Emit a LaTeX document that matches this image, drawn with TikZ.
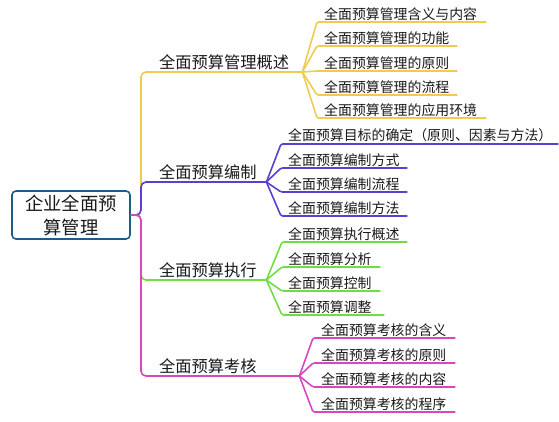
\documentclass[tikz,border=0pt]{standalone}
\usepackage{fontspec}
\setmainfont{Noto Sans CJK SC}
\definecolor{ylw}{RGB}{238,204,82}
\definecolor{pur}{RGB}{92,62,208}
\definecolor{grn}{RGB}{112,220,72}
\definecolor{mag}{RGB}{214,72,190}
\definecolor{rootc}{RGB}{30,92,135}
\definecolor{txt}{RGB}{25,25,25}
\tikzset{
  br/.style={line width=1.6pt, rounded corners=5pt},
  fan/.style={line width=1.6pt, rounded corners=1.5pt, line join=round},
  lone/.style={anchor=south west, inner xsep=0pt, inner ysep=2pt, align=left,
    font=\fontsize{16.25}{18}\selectfont, text=txt},
  leaf/.style={anchor=south west, inner xsep=0pt, inner ysep=1.5pt, align=left,
    font=\fontsize{13.9}{15}\selectfont, text=txt},
  rootbox/.style={draw=rootc, line width=1.6pt, rounded corners=4pt, fill=white,
    minimum width=118pt, minimum height=48pt, align=center, inner sep=0pt,
    font=\fontsize{18.3}{24}\selectfont, text=txt}
}
\begin{document}
\begin{tikzpicture}[x=1pt,y=-1pt]
\useasboundingbox (0,0) rectangle (559,421);
% level 1
\node[lone, text width=161pt] (a) at (141,72) {\hspace*{18pt}全面预算管理概述};
\node[lone, text width=125pt] (b) at (141,182) {\hspace*{18pt}全面预算编制};
\node[lone, text width=125pt] (c) at (141,280) {\hspace*{18pt}全面预算执行};
\node[lone, text width=158pt] (d) at (141,376) {\hspace*{18pt}全面预算考核};
% yellow children
\node[leaf, text width=169pt] (a1) at (317,22) {\hspace*{7pt}全面预算管理含义与内容};
\node[leaf, text width=140pt] (a2) at (317,46) {\hspace*{7pt}全面预算管理的功能};
\node[leaf, text width=140pt] (a3) at (317,71) {\hspace*{7pt}全面预算管理的原则};
\node[leaf, text width=140pt] (a4) at (317,95) {\hspace*{7pt}全面预算管理的流程};
\node[leaf, text width=169pt] (a5) at (317,118) {\hspace*{7pt}全面预算管理的应用环境};
% purple children
\node[leaf, text width=277pt] (b1) at (281,144) {\hspace*{7pt}全面预算目标的确定（原则、因素与方法）};
\node[leaf, text width=126pt] (b2) at (281,168) {\hspace*{7pt}全面预算编制方式};
\node[leaf, text width=126pt] (b3) at (281,192) {\hspace*{7pt}全面预算编制流程};
\node[leaf, text width=126pt] (b4) at (281,216) {\hspace*{7pt}全面预算编制方法};
% green children
\node[leaf, text width=125pt] (c1) at (282,242) {\hspace*{6pt}全面预算执行概述};
\node[leaf, text width=98pt] (c2) at (282,267) {\hspace*{6pt}全面预算分析};
\node[leaf, text width=98pt] (c3) at (282,291) {\hspace*{6pt}全面预算控制};
\node[leaf, text width=102pt] (c4) at (282,315) {\hspace*{6pt}全面预算调整};
% magenta children
\node[leaf, text width=142pt] (d1) at (313,338) {\hspace*{8pt}全面预算考核的含义};
\node[leaf, text width=142pt] (d2) at (313,363) {\hspace*{8pt}全面预算考核的原则};
\node[leaf, text width=142pt] (d3) at (313,387) {\hspace*{8pt}全面预算考核的内容};
\node[leaf, text width=142pt] (d4) at (313,412) {\hspace*{8pt}全面预算考核的程序};
% root
\node[rootbox] (root) at (71,215) {企业全面预\\算管理};
% trunk connectors
\draw[br, ylw] (root.east) -| (a.south west) -- (a.south east);
\draw[br, pur] (root.east) -| (b.south west) -- (b.south east);
\draw[br, grn] (root.east) -| (c.south west) -- (c.south east);
\draw[br, mag] (root.east) -| (d.south west) -- (d.south east);
% fans
\foreach \k in {1,...,5} \draw[fan, ylw] (a.south east) -- (a\k.south west) -- (a\k.south east);
\foreach \k in {1,...,4} \draw[fan, pur] (b.south east) -- (b\k.south west) -- (b\k.south east);
\foreach \k in {1,...,4} \draw[fan, grn] (c.south east) -- (c\k.south west) -- (c\k.south east);
\foreach \k in {1,...,4} \draw[fan, mag] (d.south east) -- (d\k.south west) -- (d\k.south east);
\end{tikzpicture}
\end{document}
